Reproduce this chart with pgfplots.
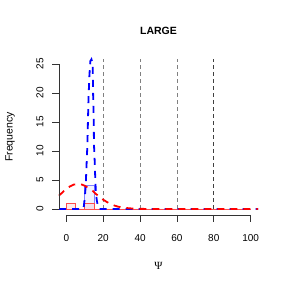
\documentclass[border=0pt]{standalone}
\usepackage{pgfplots}
\pgfplotsset{compat=1.18}
\usepackage{fontspec}
\setmainfont{Liberation Sans}
\newfontfamily\psifont{Liberation Serif}
\begin{document}
\begin{tikzpicture}[x=1pt,y=1pt]
\useasboundingbox (0,0) rectangle (288,288);
\begin{axis}[at={(59pt,73pt)}, anchor=south west, scale only axis,
  width=199pt, height=156pt, xmin=-4, xmax=104, ymin=-1.04, ymax=25.86,
  axis lines=none, clip=false]
% histograms
\addplot[ybar interval, draw=blue!50, fill=blue, fill opacity=0.05, draw opacity=1, line width=0.8pt] coordinates {
(0,0)(5,0)(10,4)(15,0)(20,0)(25,0)(30,0)(35,0)(40,0)(45,0)(50,0)(55,0)(60,0)(65,0)(70,0)(75,0)(80,0)(85,0)(90,0)(95,0)(100,0)};
\addplot[ybar interval, draw=red!70, fill=red, fill opacity=0.08, line width=0.8pt] coordinates {
(0,1)(5,0)(10,1)(15,0)(20,0)(25,0)(30,0)(35,0)(40,0)(45,0)(50,0)(55,0)(60,0)(65,0)(70,0)(75,0)(80,0)(85,0)(90,0)(95,0)(100,0)};
% vertical reference lines
\addplot[gray, dash pattern=on 4pt off 3pt, line width=0.8pt] coordinates {(20,0)(20,25.9)};
\addplot[gray, dash pattern=on 4pt off 3pt, line width=0.8pt] coordinates {(40,0)(40,25.9)};
\addplot[gray, dash pattern=on 4pt off 3pt, line width=0.8pt] coordinates {(60,0)(60,25.9)};
\addplot[black!75, dash pattern=on 4pt off 3pt, line width=0.8pt] coordinates {(80,0)(80,25.9)};
% blue density
\addplot[blue, line width=1.8pt, dash pattern=on 7pt off 6pt] coordinates {
(-4,0)(4,0)(8,0)(9,0)(9.5,0.5)(10,2)(10.5,4)(11,8)(11.4,11)(12,19)(12.5,23)(13,25.5)(13.6,25.8)(14.3,25)(14.5,20)(14.8,16)(15,11)(15.4,8)(15.7,5)(16,3)(16.5,1.5)(17,0.7)(17.8,0)(25,0)(40,0)(60,0)(80,0)(104,0)};
% red density
\addplot[red, line width=1.8pt, dash pattern=on 7pt off 6pt] coordinates {
(-4,2.3)(-2,2.9)(0,3.5)(2,3.9)(4,4.2)(6,4.3)(8,4.25)(10,4.0)(12,3.6)(14,3.2)(16,2.6)(18,2.1)(20,1.6)(22,1.2)(24,0.85)(26,0.6)(28,0.4)(30,0.27)(33,0.15)(36,0.07)(40,0.02)(45,0)(60,0)(80,0)(104,0)};
% R-style axes
\draw[black!80, line width=0.6pt] (axis cs:0,-1.04) -- (axis cs:100,-1.04);
\pgfplotsinvokeforeach{0,20,40,60,80,100}{
  \draw[black!80, line width=0.6pt] (axis cs:#1,-1.04) -- ([yshift=-7pt]axis cs:#1,-1.04);
  \node[inner sep=0pt, font=\fontsize{10}{12}\selectfont] at ([yshift=-23pt]axis cs:#1,-1.04) {#1};
}
\draw[black!80, line width=0.6pt] (axis cs:-4,0) -- (axis cs:-4,25);
\pgfplotsinvokeforeach{0,5,10,15,20,25}{
  \draw[black!80, line width=0.6pt] (axis cs:-4,#1) -- ([xshift=-7pt]axis cs:-4,#1);
  \node[inner sep=0pt, rotate=90, font=\fontsize{10}{12}\selectfont] at ([xshift=-19pt]axis cs:-4,#1) {#1};
}
\node[inner sep=0pt, rotate=90, font=\fontsize{10.5}{12}\selectfont] at ([xshift=-49pt]rel axis cs:0,0.5) {Frequency};
\node[inner sep=0pt, font=\fontsize{11}{12}\selectfont\psifont] at ([yshift=-51pt]rel axis cs:0.5,0) {Ψ};
\node[inner sep=0pt, font=\fontsize{10.5}{12}\selectfont\bfseries] at ([yshift=28.5pt]rel axis cs:0.5,1) {LARGE};
\end{axis}
\end{tikzpicture}
\end{document}
